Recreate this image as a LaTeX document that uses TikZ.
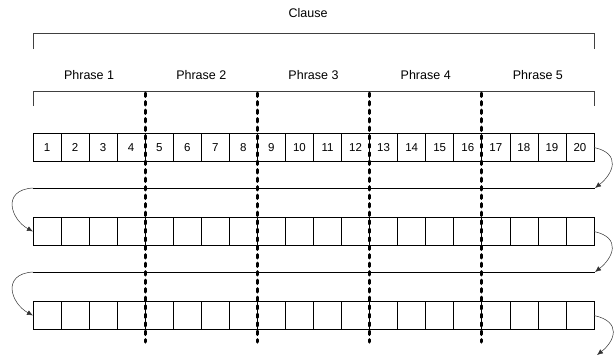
\documentclass[tikz,border=0pt]{standalone}
\usepackage{fontspec}
\setmainfont{Liberation Sans}
\usepackage{tikz}
\usetikzlibrary{arrows.meta, positioning}

\begin{document}
\begin{tikzpicture}[
    x=1pt, y=1pt,
    cell/.style={rectangle, draw, line width=0.7pt, minimum width=28.05pt, minimum height=28pt, inner sep=0pt, outer sep=0pt, font=\fontsize{11.5}{13}\selectfont},
    label/.style={font=\fontsize{12.5}{14}\selectfont},
    bracket/.style={line width=0.8pt, draw=black!75},
    divider/.style={line width=3pt, line cap=round, dash pattern=on 3.5pt off 5pt},
    wrap/.style={line width=0.7pt},
    arrow/.style={-{Latex[length=6pt,width=5pt]}, line width=0.5pt, draw=black!80}
]
\useasboundingbox (0,0) rectangle (615,360);

% titles and brackets
\node[label] (clause) at (308,347) {Clause};
\draw[bracket] (33,311) |- (594,326.5) -- (594,311);
\foreach \p in {1,...,5}
  \node[label] (ph\p) at ({33+(\p-0.5)*112.2},285) {Phrase \p};
\draw[bracket] (33,254) |- (594,269) -- (594,254);

% three rows of cells
\foreach \i in {1,...,20} {
  \node[cell] (a\i) at ({33+(\i-0.5)*28.05},212.5) {\i};
  \node[cell] (b\i) at ({33+(\i-0.5)*28.05},128.5) {};
  \node[cell] (c\i) at ({33+(\i-0.5)*28.05},44.5) {};
}

% phrase boundaries
\foreach \k in {1,...,4}
  \draw[divider] ({33+\k*112.2},267) -- ({33+\k*112.2},18);

% wrap lines between rows
\coordinate (l1w) at (33,172);
\coordinate (l1e) at (595,172);
\coordinate (l2w) at (33,88);
\coordinate (l2e) at (595,88);
\coordinate (tail) at (597,5);
\draw[wrap] (l1w) -- (l1e);
\draw[wrap] (l2w) -- (l2e);

\draw[arrow] (a20.east) .. controls +(28,-6) and +(18,14) .. (l1e);
\draw[arrow] (l1w) .. controls +(-32,-2) and +(-22,12) .. (b1.west);
\draw[arrow] (b20.east) .. controls +(28,-6) and +(18,14) .. (l2e);
\draw[arrow] (l2w) .. controls +(-32,-2) and +(-22,12) .. (c1.west);
\draw[arrow] (c20.east) .. controls +(28,-6) and +(18,14) .. (tail);
\end{tikzpicture}
\end{document}
